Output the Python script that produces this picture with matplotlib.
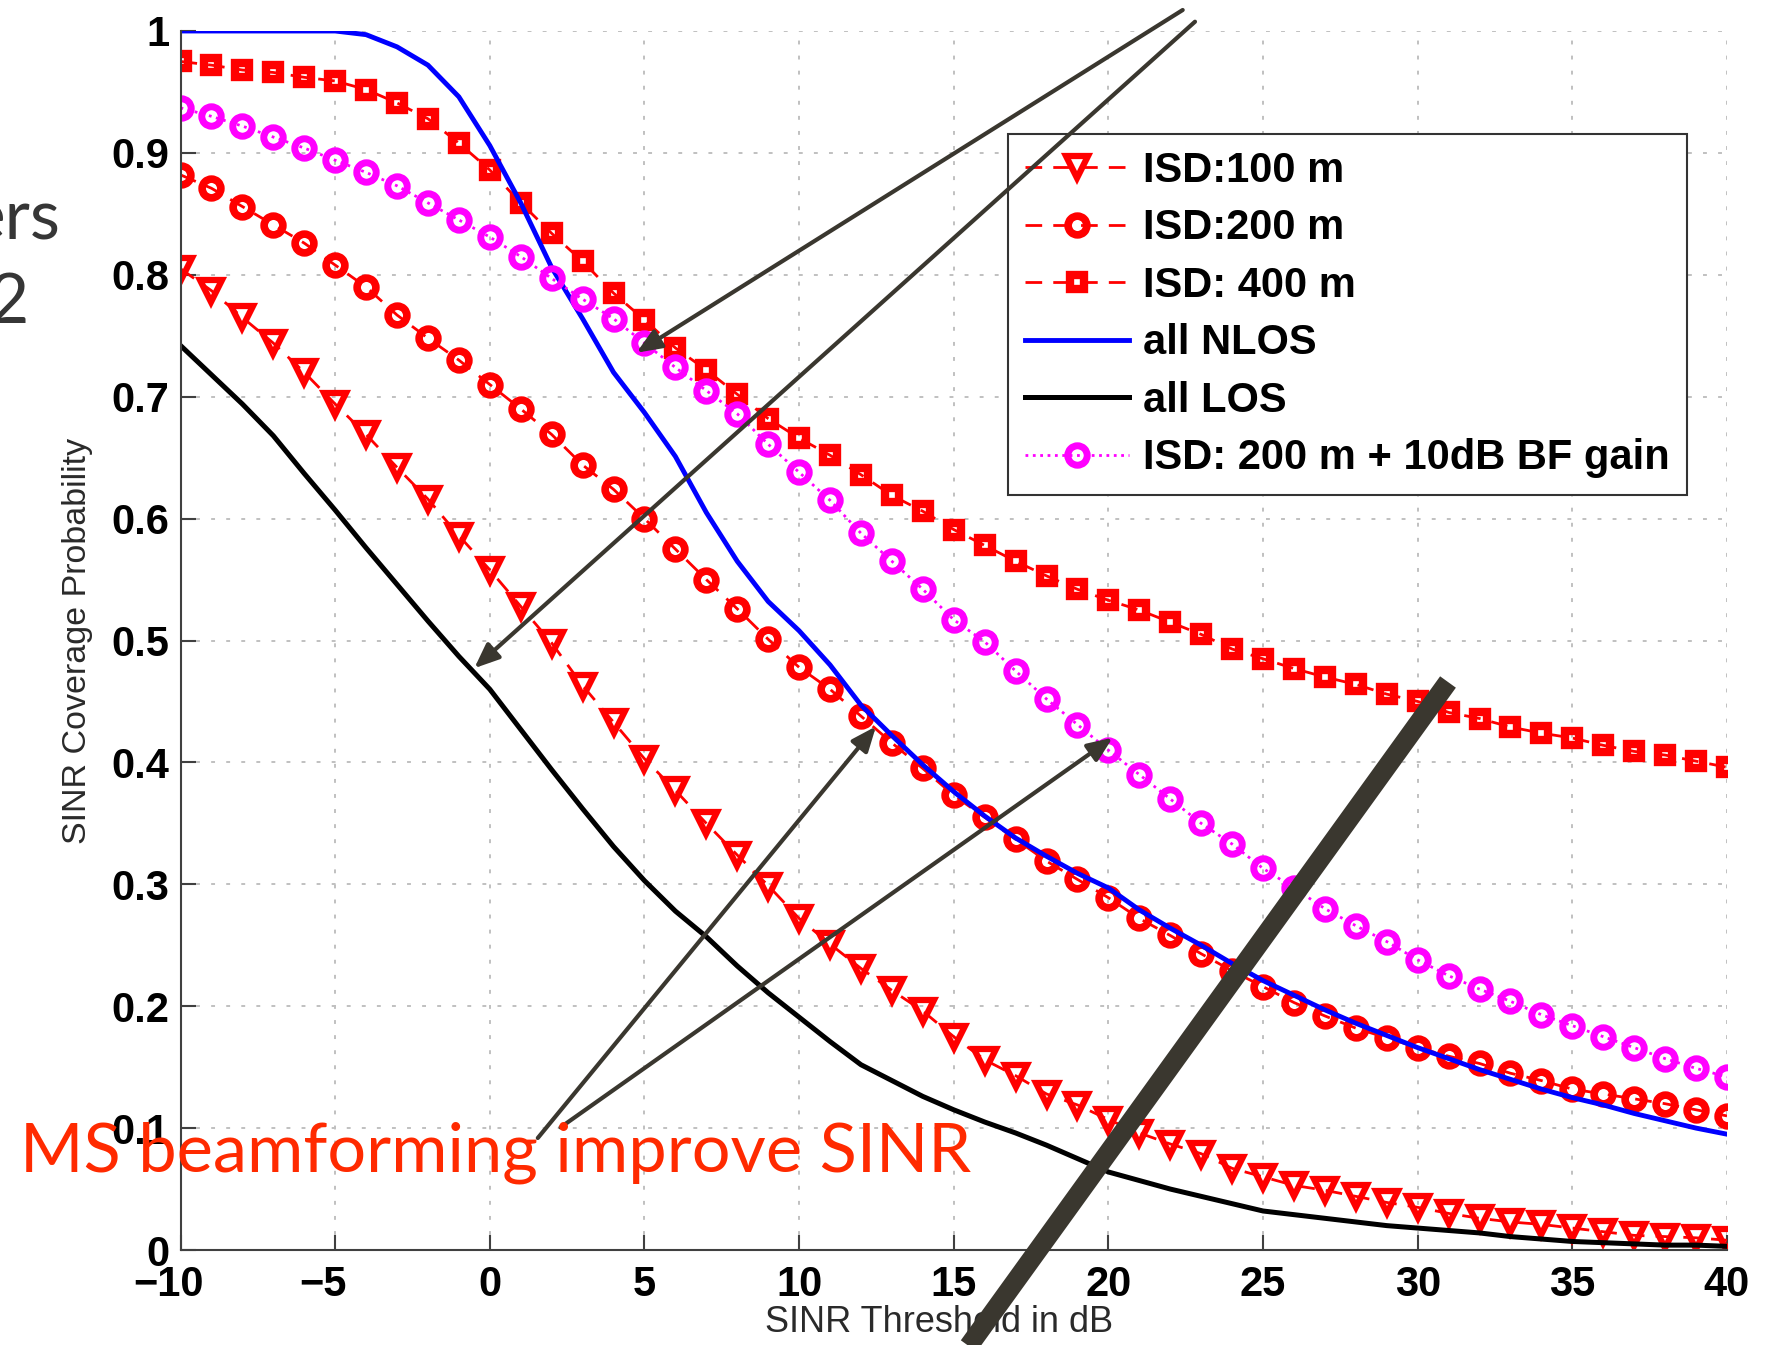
import matplotlib
matplotlib.use('Agg')
import matplotlib.pyplot as plt
from matplotlib.lines import Line2D
from matplotlib.transforms import ScaledTranslation

# SINR threshold grid (dB) and coverage curves
sinr_db = list(range(-10, 41))

isd100 = [0.805, 0.787, 0.765, 0.744, 0.720, 0.694, 0.669, 0.642, 0.616, 0.586,
          0.558, 0.528, 0.498, 0.463, 0.433, 0.403, 0.377, 0.350, 0.324, 0.299,
          0.272, 0.251, 0.231, 0.213, 0.196, 0.175, 0.156, 0.143, 0.128, 0.119,
          0.107, 0.096, 0.087, 0.079, 0.067, 0.060, 0.053, 0.049, 0.044, 0.039,
          0.035, 0.030, 0.026, 0.023, 0.021, 0.018, 0.015, 0.012, 0.011, 0.010,
          0.008]
isd200 = [0.882, 0.871, 0.856, 0.841, 0.826, 0.808, 0.790, 0.767, 0.748, 0.730,
          0.710, 0.690, 0.669, 0.644, 0.624, 0.600, 0.575, 0.550, 0.526, 0.501,
          0.478, 0.460, 0.438, 0.416, 0.395, 0.373, 0.355, 0.337, 0.319, 0.304,
          0.289, 0.272, 0.258, 0.243, 0.229, 0.216, 0.203, 0.192, 0.182, 0.174,
          0.166, 0.159, 0.153, 0.145, 0.139, 0.132, 0.128, 0.124, 0.120, 0.115,
          0.110]
isd400 = [0.975, 0.972, 0.968, 0.966, 0.962, 0.959, 0.952, 0.941, 0.928, 0.908,
          0.886, 0.859, 0.834, 0.811, 0.785, 0.763, 0.740, 0.722, 0.702, 0.682,
          0.666, 0.652, 0.636, 0.619, 0.606, 0.591, 0.578, 0.565, 0.553, 0.542,
          0.533, 0.525, 0.515, 0.505, 0.493, 0.485, 0.477, 0.470, 0.464, 0.456,
          0.450, 0.441, 0.436, 0.429, 0.424, 0.420, 0.414, 0.409, 0.406, 0.401,
          0.396]
all_nlos = [1.000, 1.000, 1.000, 1.000, 1.000, 1.000, 0.997, 0.987, 0.972, 0.946,
            0.906, 0.859, 0.806, 0.764, 0.720, 0.687, 0.651, 0.605, 0.565, 0.532,
            0.508, 0.480, 0.447, 0.422, 0.398, 0.376, 0.356, 0.338, 0.323, 0.309,
            0.297, 0.279, 0.264, 0.250, 0.235, 0.221, 0.209, 0.197, 0.186, 0.176,
            0.166, 0.157, 0.148, 0.140, 0.132, 0.125, 0.119, 0.112, 0.106, 0.100,
            0.095]
all_los = [0.742, 0.718, 0.694, 0.668, 0.637, 0.607, 0.576, 0.546, 0.516, 0.487,
           0.460, 0.427, 0.394, 0.362, 0.331, 0.303, 0.278, 0.257, 0.233, 0.211,
           0.191, 0.171, 0.152, 0.139, 0.126, 0.115, 0.105, 0.096, 0.086, 0.075,
           0.064, 0.057, 0.050, 0.044, 0.038, 0.032, 0.029, 0.026, 0.023, 0.020,
           0.018, 0.016, 0.014, 0.011, 0.009, 0.007, 0.006, 0.005, 0.004, 0.004,
           0.003]
isd200_bf = [0.937, 0.930, 0.922, 0.913, 0.904, 0.894, 0.884, 0.873, 0.859, 0.845,
             0.831, 0.815, 0.797, 0.780, 0.764, 0.744, 0.724, 0.705, 0.686, 0.661,
             0.638, 0.615, 0.588, 0.565, 0.542, 0.517, 0.499, 0.475, 0.452, 0.431,
             0.410, 0.390, 0.370, 0.350, 0.333, 0.313, 0.297, 0.280, 0.266, 0.253,
             0.238, 0.225, 0.214, 0.204, 0.193, 0.184, 0.175, 0.166, 0.157, 0.149,
             0.142]

legend_labels = ['ISD:100 m', 'ISD:200 m', 'ISD: 400 m', 'all NLOS', 'all LOS',
                 'ISD: 200 m + 10dB BF gain']

x_ticks = [-10, -5, 0, 5, 10, 15, 20, 25, 30, 35, 40]
x_tick_labels = ['\u221210', '\u22125', '0', '5', '10', '15', '20', '25', '30', '35', '40']
y_ticks = [0, 0.1, 0.2, 0.3, 0.4, 0.5, 0.6, 0.7, 0.8, 0.9, 1]
y_tick_labels = ['0', '0.1', '0.2', '0.3', '0.4', '0.5', '0.6', '0.7', '0.8', '0.9', '1']

plt.rcParams['font.family'] = ['Liberation Sans', 'DejaVu Sans']

W, H = 1776, 1345
fig = plt.figure(figsize=(W / 100, H / 100), dpi=100)
ax = fig.add_axes([180.5 / W, 1 - 1250 / H, 1546.5 / W, 1219 / H])

red = '#ff0000'
dash = (0, (6, 4))
ax.plot(sinr_db, isd100, color=red, ls=dash, lw=2, marker='v', ms=16, mew=4.5,
        mfc='none', label=legend_labels[0])
ax.plot(sinr_db, isd200, color=red, ls=dash, lw=2, marker='o', ms=13.5, mew=5.5,
        mfc='none', label=legend_labels[1])
ax.plot(sinr_db, isd400, color=red, ls=dash, lw=2, marker='s', ms=10.5, mew=6,
        mfc='none', label=legend_labels[2])
ax.plot(sinr_db, all_nlos, color='#0000ff', lw=3.5, label=legend_labels[3])
ax.plot(sinr_db, all_los, color='black', lw=3.6, label=legend_labels[4])
ax.plot(sinr_db, isd200_bf, color='#ff00ff', ls=':', lw=2, marker='o', ms=14, mew=5,
        mfc='none', label=legend_labels[5])

ax.set_xlim(-10, 40)
ax.set_ylim(0, 1)
ax.set_xticks(x_ticks, x_tick_labels, fontweight='bold')
ax.set_yticks(y_ticks, y_tick_labels, fontweight='bold')
ax.tick_params(direction='in', length=11, width=1.5, labelsize=30, color='#404040')
ax.tick_params(axis='x', pad=11)
ax.tick_params(axis='y', pad=8)
ax.grid(True, color='#c0c0c0', linestyle=(0, (2, 5.75)), linewidth=1.4)
for s in ['top', 'right']:
    ax.spines[s].set_visible(False)
for s in ['left', 'bottom']:
    ax.spines[s].set_color('#404040')
    ax.spines[s].set_linewidth(1.5)

ax.set_xlabel('SINR Threshold in dB', fontsize=26, color='#2a2a2a')
ax.set_ylabel('SINR Coverage Probability', fontsize=24.5, color='#2a2a2a')
ax.xaxis.set_label_coords(0.4905, -0.045)
ax.yaxis.set_label_coords(-0.0566, 0.5)

leg = ax.legend(loc='upper left', bbox_to_anchor=(1008 / W, 1 - 134 / H),
                bbox_transform=fig.transFigure, prop={'weight': 'bold', 'size': 30},
                fancybox=False, edgecolor='#333333', framealpha=1, borderpad=0.4,
                labelspacing=0.42, handlelength=2.5, handletextpad=0.35,
                borderaxespad=0, numpoints=1)
leg.get_frame().set_linewidth(1.5)

# annotation arrows (image pixel coords, y from top)
ink = '#3a372f'
arrow_kw = dict(arrowstyle='-|>,head_length=0.6,head_width=0.25', color=ink, lw=3,
                mutation_scale=25, shrinkA=0, shrinkB=0)
arrows = [((1182.7, 10), (636.5, 352.7)),
          ((1195, 21.7), (474.3, 668.2)),
          ((537.8, 1138), (876, 726.4)),
          ((560.5, 1127.4), (1112.6, 737.7))]
for (sx, sy), (tx, ty) in arrows:
    ax.annotate('', xy=(tx, H - ty), xycoords='figure pixels',
                xytext=(sx, H - sy), textcoords='figure pixels',
                arrowprops=arrow_kw, annotation_clip=False, zorder=6)

fig.add_artist(Line2D([1448 / W, 955 / W], [1 - 682 / H, 1 - 1365 / H],
                      transform=fig.transFigure, lw=14, color=ink,
                      solid_capstyle='butt', zorder=7))

fig.text(20 / W, 1 - 1172 / H, 'MS beamforming improve SINR', color='#ff2a00',
         fontsize=49.3, family='Lato', va='baseline', zorder=8)
fig.text(60 / W, 1 - 240 / H, 'ers', color='#363636', fontsize=50, family='Lato',
         ha='right', va='baseline')
fig.text(29 / W, 1 - 323 / H, '2', color='#363636', fontsize=50, family='Lato',
         ha='right', va='baseline')

# MATLAB centres the digits of negative labels and lets the minus hang left
fig.canvas.draw()
for tick in ax.xaxis.get_major_ticks():
    if tick.get_loc() < 0:
        tick.label1.set_transform(tick.label1.get_transform() +
                                  ScaledTranslation(-0.12, 0, fig.dpi_scale_trans))

fig.savefig('out.png', dpi=100)
